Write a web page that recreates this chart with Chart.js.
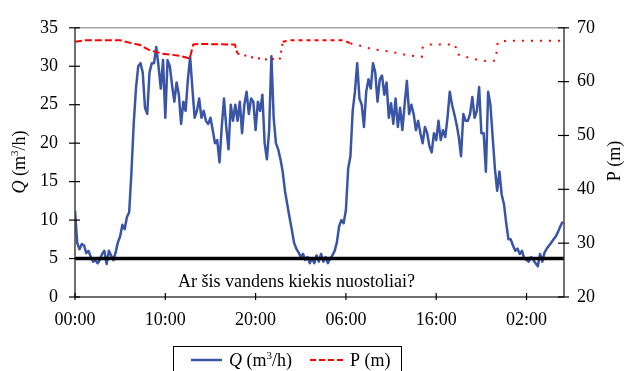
<!DOCTYPE html>
<html>
<head>
<meta charset="utf-8">
<script src="https://cdn.jsdelivr.net/npm/chart.js@4.4.1/dist/chart.umd.min.js"></script>
<style>
  html, body { margin: 0; padding: 0; background: #fff; }
</style>
</head>
<body>
<canvas id="chart" width="632" height="371"></canvas>
<script>
// flow samples, one every 15 minutes from 00:00 of day 1
const stepHours = 0.25;
const flowQ = [
  11.2, 7.0, 6.2, 6.9, 6.7, 5.7, 6.0, 5.2, 4.6, 4.8,
  4.4, 4.8, 5.6, 6.0, 4.3, 6.0, 5.4, 4.8, 5.8, 7.1,
  7.9, 9.4, 8.8, 10.4, 11.0, 16.2, 22.5, 27.1, 30.0, 30.4,
  29.2, 24.6, 23.8, 29.2, 30.4, 30.4, 32.5, 30.0, 27.1, 30.8,
  23.3, 30.8, 30.0, 27.5, 25.4, 27.9, 26.3, 22.5, 25.4, 24.2,
  28.3, 31.2, 27.1, 23.3, 24.2, 25.8, 23.3, 24.2, 22.9, 22.5,
  23.3, 21.7, 20.0, 20.4, 17.5, 22.1, 25.8, 22.1, 19.2, 25.0,
  22.9, 25.0, 22.9, 25.4, 21.3, 25.0, 26.7, 23.8, 25.8, 25.4,
  21.7, 25.4, 24.2, 26.3, 20.0, 17.9, 21.7, 31.3, 23.3, 20.0,
  19.2, 17.9, 16.3, 13.8, 12.1, 10.4, 8.8, 7.1, 6.3, 5.8,
  5.2, 5.6, 4.8, 5.2, 4.4, 5.0, 4.4, 5.4, 4.6, 5.6,
  4.6, 5.2, 4.4, 5.0, 5.4, 6.0, 7.1, 9.2, 10.0, 9.6,
  11.3, 16.7, 18.3, 24.2, 26.7, 30.4, 25.8, 25.0, 22.1, 26.7,
  28.3, 27.1, 30.4, 29.2, 25.4, 28.3, 28.8, 26.3, 27.9, 23.3,
  25.2, 22.5, 25.8, 22.1, 24.6, 21.7, 25.0, 28.1, 23.8, 25.0,
  23.8, 21.7, 22.9, 21.3, 20.0, 22.1, 21.3, 19.6, 18.8, 21.3,
  20.4, 22.9, 20.4, 21.7, 20.8, 23.3, 26.7, 25.0, 23.8, 22.5,
  20.8, 18.3, 23.8, 22.9, 22.9, 23.8, 26.0, 23.3, 24.2, 27.3,
  21.3, 21.3, 16.3, 26.7, 25.0, 20.8, 16.7, 13.8, 16.3, 13.3,
  12.1, 9.6, 7.5, 7.5, 6.7, 6.0, 6.3, 5.6, 6.0, 5.0,
  4.8, 4.6, 5.2, 4.8, 4.4, 4.0, 5.6, 4.6, 5.8, 6.3,
  6.7, 7.1, 7.5, 7.9, 8.5, 9.2, 9.8
];

// pressure, read at its turning points
const pressureHours = [
  0, 1.1, 5.0, 6.1, 7.2, 8.3, 9.7, 11.6, 12.7, 13.1,
  13.8, 17.7, 18.0, 19.7, 21.3, 22.7, 23.0, 23.8, 29.7, 30.5,
  31.3, 33.0, 34.9, 36.8, 38.4, 38.5, 39.1, 42.1, 42.3, 44.1,
  45.6, 46.5, 46.7, 46.8, 47.8, 53.4, 53.8
];
const pressureP = [
  67.4, 67.7, 67.7, 67.2, 66.8, 65.8, 65.2, 64.8, 64.3, 66.9,
  67.0, 66.9, 65.2, 64.5, 64.1, 64.3, 67.4, 67.7, 67.7, 67.1,
  66.8, 66.0, 65.6, 64.9, 64.6, 66.3, 66.9, 66.9, 65.1, 64.2,
  63.8, 63.9, 65.6, 67.3, 67.6, 67.6, 67.6
];

const tickHours = [0, 10, 20, 30, 40, 50];
const tickLabels = ['00:00', '10:00', '20:00', '06:00', '16:00', '02:00'];
const endHour = 54.15;
const thresholdQ = 5;
const noteText = 'Ar šis vandens kiekis nuostoliai?';

const FONT = "'Liberation Serif', 'Times New Roman', serif";
const BLUE = '#3a55a5';
const RED = '#ff0000';

const flowPoints = flowQ.map((q, i) => ({ x: i * stepHours, y: q }));
const pressurePoints = pressureP.map((p, i) => ({ x: pressureHours[i], y: p }));

// the pressure trace changes from dashes to dots along the record
function pressureDash(ctx) {
  const h = ctx.p0.parsed.x;
  if (h < 17.9) return [7, 3];
  if (h < 22.9) return [2, 5];
  if (h < 30) return [4, 4];
  return [2, 7];
}

function strokeLine(ctx, x1, y1, x2, y2) {
  ctx.beginPath();
  ctx.moveTo(x1, y1);
  ctx.lineTo(x2, y2);
  ctx.stroke();
}

function fontFor(p) {
  return (p.italic ? 'italic ' : '') + (p.sup ? 11 : 18) + 'px ' + FONT;
}

function drawRich(ctx, parts, x, baseY, align) {
  let total = 0;
  parts.forEach(p => { ctx.font = fontFor(p); p.w = ctx.measureText(p.text).width; total += p.w; });
  let px = align === 'center' ? x - total / 2 : x;
  ctx.textAlign = 'left';
  ctx.textBaseline = 'alphabetic';
  parts.forEach(p => {
    ctx.font = fontFor(p);
    ctx.fillText(p.text, px, baseY - (p.sup ? 7 : 0));
    px += p.w;
  });
}

const qLabel = [
  { text: 'Q', italic: true }, { text: ' (m' }, { text: '3', sup: true }, { text: '/h)' }
];
const pLabel = [{ text: 'P (m)' }];

const overlay = {
  id: 'overlay',
  afterDraw(chart) {
    const { ctx, chartArea: a, scales } = chart;
    ctx.save();

    ctx.strokeStyle = '#a6a6a6';
    ctx.lineWidth = 1.5;
    strokeLine(ctx, a.left, a.top, a.right, a.top);

    ctx.strokeStyle = '#404040';
    strokeLine(ctx, a.left, a.top, a.left, a.bottom);
    strokeLine(ctx, a.right, a.top, a.right, a.bottom);
    strokeLine(ctx, a.left, a.bottom, a.right, a.bottom);

    ctx.strokeStyle = '#000';
    ctx.lineWidth = 1.2;
    scales.yQ.ticks.forEach(t => {
      const py = scales.yQ.getPixelForValue(t.value);
      strokeLine(ctx, a.left - 6, py, a.left + 5, py);
    });
    scales.yP.ticks.forEach(t => {
      const py = scales.yP.getPixelForValue(t.value);
      strokeLine(ctx, a.right - 6, py, a.right + 5, py);
    });
    scales.x.ticks.forEach(t => {
      const px = scales.x.getPixelForValue(t.value);
      strokeLine(ctx, px, a.bottom - 4, px, a.bottom + 3);
    });

    ctx.fillStyle = '#000';
    ctx.save();
    ctx.translate(20, 162);
    ctx.rotate(-Math.PI / 2);
    drawRich(ctx, qLabel, 0, 5, 'center');
    ctx.restore();

    ctx.save();
    ctx.translate(615, 161);
    ctx.rotate(-Math.PI / 2);
    drawRich(ctx, pLabel, 0, 5, 'center');
    ctx.restore();

    drawRich(ctx, [{ text: noteText }], 178, 287, 'left');

    // legend box
    ctx.strokeStyle = '#000';
    ctx.lineWidth = 1;
    ctx.strokeRect(173.5, 346.5, 228, 40);
    ctx.lineWidth = 2.5;
    ctx.strokeStyle = BLUE;
    strokeLine(ctx, 191, 360, 222, 360);
    drawRich(ctx, qLabel, 229, 366, 'left');
    ctx.strokeStyle = RED;
    ctx.lineWidth = 2;
    ctx.setLineDash([6, 3]);
    strokeLine(ctx, 310, 360, 346, 360);
    ctx.setLineDash([]);
    drawRich(ctx, pLabel, 350, 366, 'left');

    ctx.restore();
  }
};

Chart.defaults.font.family = FONT;
Chart.defaults.font.size = 18;
Chart.defaults.color = '#000';

new Chart(document.getElementById('chart'), {
  type: 'line',
  data: {
    datasets: [
      {
        label: 'limit',
        data: [{ x: 0, y: thresholdQ }, { x: endHour, y: thresholdQ }],
        yAxisID: 'yQ',
        borderColor: '#000',
        borderWidth: 3.5,
        pointRadius: 0,
        order: 0
      },
      {
        label: 'P (m)',
        data: pressurePoints,
        yAxisID: 'yP',
        borderColor: RED,
        borderWidth: 2,
        pointRadius: 0,
        segment: { borderDash: pressureDash },
        order: 1
      },
      {
        label: 'Q (m³/h)',
        data: flowPoints,
        yAxisID: 'yQ',
        borderColor: BLUE,
        borderWidth: 2.5,
        borderJoinStyle: 'round',
        pointRadius: 0,
        order: 2
      }
    ]
  },
  options: {
    responsive: false,
    animation: false,
    events: [],
    layout: { padding: { top: 19, left: 0, right: 0, bottom: 0 } },
    plugins: {
      legend: { display: false },
      tooltip: { enabled: false }
    },
    scales: {
      x: {
        type: 'linear',
        min: 0,
        max: endHour,
        afterFit: s => { s.height = 74; },
        grid: { display: false, drawTicks: false },
        border: { display: false },
        ticks: {
          stepSize: 10,
          includeBounds: false,
          autoSkip: false,
          maxRotation: 0,
          padding: 12,
          callback: v => {
            const k = tickHours.indexOf(v);
            return k >= 0 ? tickLabels[k] : '';
          }
        }
      },
      yQ: {
        position: 'left',
        min: 0,
        max: 35,
        afterFit: s => { s.width = 75; },
        grid: { display: false, drawTicks: false },
        border: { display: false },
        ticks: { stepSize: 5, padding: 17 }
      },
      yP: {
        position: 'right',
        min: 20,
        max: 70,
        afterFit: s => { s.width = 68; },
        grid: { display: false, drawTicks: false },
        border: { display: false },
        ticks: { stepSize: 10, padding: 13 }
      }
    }
  },
  plugins: [overlay]
});
</script>
</body>
</html>
